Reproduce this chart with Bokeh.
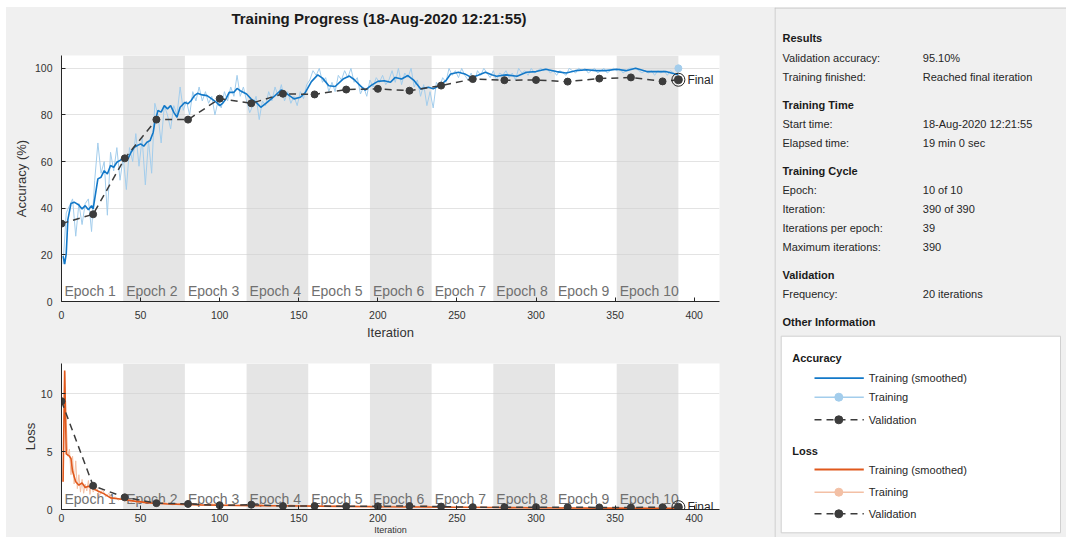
from bokeh.plotting import figure
from bokeh.models import Range1d, FixedTicker, Spacer
from bokeh.layouts import row, column
from bokeh.embed import file_html
from bokeh.resources import INLINE
from bokeh.core.properties import value

# ---------------- data ----------------
TITLE = "Training Progress (18-Aug-2020 12:21:55)"
ITERS_PER_EPOCH = 39
N_EPOCHS = 10
MAX_ITER = 390
epochs = list(range(1, N_EPOCHS + 1))
x_ticks = [0, 50, 100, 150, 200, 250, 300, 350, 400]
acc_ticks = [0, 20, 40, 60, 80, 100]
loss_ticks = [0, 5, 10]

# raw training accuracy, every 2nd iteration (1,3,...,389) and the final iteration 390
raw_acc_iters = list(range(1, MAX_ITER, 2)) + [MAX_ITER]
raw_acc = [
    16, 38, 41, 44, 28, 42, 33, 42, 44, 30, 52, 68, 55, 60, 37, 64, 56, 66, 52, 62,
    48, 66, 60, 72, 58, 70, 50, 69, 55, 85, 80, 68, 84, 80, 74, 84, 80, 92, 82, 86,
    80, 90, 86, 92, 86, 90, 85, 88, 80, 86, 83, 90, 86, 92, 88, 97, 88, 92, 86, 81,
    84, 88, 78, 86, 84, 90, 86, 92, 88, 93, 86, 90, 85, 88, 84, 90, 87, 93, 95, 99,
    97, 100, 94, 96, 90, 94, 90, 97, 95, 99, 96, 100, 94, 96, 89, 92, 88, 95, 92, 96,
    94, 97, 93, 95, 99, 94, 100, 93, 98, 96, 100, 92, 95, 88, 93, 84, 90, 83, 94, 92,
    96, 94, 100, 97, 99, 96, 100, 97, 95, 98, 94, 99, 97, 100, 98, 96, 99, 95, 98, 97,
    99, 96, 98, 95, 100, 98, 99, 97, 100, 98, 99, 100, 99, 100, 98, 99, 97, 99, 98, 97,
    100, 99, 98, 100, 99, 100, 98, 99, 100, 98, 99, 100, 98, 99, 100, 99, 100, 98, 99, 100,
    100, 100, 99, 98, 99, 98, 99, 97, 99, 98, 99, 97, 99, 98, 97,
    100,
]

smooth_acc_iters = [1, 2, 3, 4, 6, 8, 11, 13, 15, 17, 19, 20, 23, 25, 27, 29, 31, 33, 35, 37,
                    40, 42, 44, 46, 48, 50, 52, 54, 56, 58, 59, 61, 63, 65, 67, 69, 71, 73, 75, 78,
                    80, 82, 84, 86, 89, 92, 95, 98, 100, 102, 104, 106, 109, 111, 113, 117, 120, 123, 126, 130,
                    135, 139, 143, 147, 151, 154, 158, 162, 165, 169, 173, 178, 182, 185, 189, 192, 196, 200, 204, 208,
                    211, 215, 219, 223, 227, 232, 235, 239, 243, 246, 251, 255, 259, 263, 268, 272, 275, 281, 288, 294,
                    300, 306, 313, 319, 325, 332, 338, 344, 351, 357, 363, 370, 376, 382, 388, 390]
smooth_acc = [19.5, 16.0, 20.5, 35.0, 42.0, 42.6, 41.4, 39.7, 41.1, 39.4, 41.1, 39.7, 52.6, 53.3, 56.1, 54.7, 58.3, 57.6, 59.7, 60.5,
              61.9, 61.2, 64.0, 66.1, 66.9, 67.6, 66.6, 68.3, 69.0, 72.6, 76.9, 81.9, 81.2, 84.0, 82.6, 84.0, 81.1, 79.0, 83.3, 85.4,
              84.8, 86.2, 88.3, 89.3, 88.6, 88.3, 86.9, 85.4, 84.0, 85.1, 86.9, 89.7, 89.7, 91.4, 90.4, 89.0, 86.8, 85.5, 83.3, 85.4,
              88.3, 90.8, 88.8, 86.9, 87.6, 89.5, 94.3, 97.2, 95.8, 92.5, 92.2, 95.4, 96.7, 95.2, 92.5, 90.6, 92.8, 94.4, 94.7, 94.0,
              96.1, 95.4, 96.9, 94.7, 91.2, 91.9, 91.2, 92.6, 94.7, 97.6, 98.3, 97.6, 96.1, 96.9, 98.3, 97.2, 96.6, 97.2, 96.6, 98.3,
              98.6, 99.6, 98.6, 98.0, 99.0, 99.4, 99.0, 99.0, 99.6, 99.0, 100.0, 98.6, 98.6, 98.6, 97.6, 97.4]

val_iters = [0, 20, 40, 60, 80, 100, 120, 140, 160, 180, 200, 220, 240, 260, 280, 300, 320, 340, 360, 380, 390]
val_acc = [33.4, 37.4, 61.4, 78.0, 78.0, 87.0, 85.0, 89.1, 88.8, 90.9, 91.2, 90.4, 92.6, 95.4, 94.9, 95.0, 94.3, 95.6, 96.1, 94.4, 95.1]
val_loss = [9.35, 2.05, 1.05, 0.55, 0.48, 0.36, 0.42, 0.3, 0.3, 0.28, 0.28, 0.3, 0.25, 0.2, 0.2, 0.2, 0.2, 0.18, 0.18, 0.2, 0.2]

raw_loss_iters = list(range(1, 21)) + list(range(22, 61, 2)) + list(range(65, MAX_ITER + 1, 5))
raw_loss = [
    2.4, 11.9, 7.5, 4.6, 5.2, 3.0, 4.6, 2.2, 4.2, 1.8, 3.0, 1.5, 2.6, 1.4, 2.2, 1.6, 2.5, 1.3, 2.4, 1.5,
    2.0, 1.2, 1.7, 1.1, 1.4, 0.9, 1.1, 0.8, 1.0, 0.7, 0.9, 0.6, 0.8, 0.6, 0.7, 0.5, 0.7, 0.5, 0.6, 0.4,
    0.6, 0.4, 0.5, 0.4, 0.45, 0.35, 0.5, 0.3, 0.4, 0.35,
    0.4, 0.3, 0.45, 0.3, 0.35, 0.25, 0.4, 0.3, 0.35, 0.25,
    0.3, 0.25, 0.35, 0.2, 0.3, 0.25, 0.3, 0.2, 0.25, 0.3,
    0.2, 0.3, 0.25, 0.35, 0.2, 0.25, 0.2, 0.15, 0.2, 0.15,
    0.2, 0.15, 0.2, 0.1, 0.15, 0.2, 0.1, 0.15, 0.1, 0.15,
    0.1, 0.15, 0.1, 0.12, 0.08, 0.12, 0.1, 0.08, 0.1, 0.12,
    0.08, 0.1, 0.12, 0.08, 0.1, 0.1,
]

smooth_loss_iters = [1, 2, 3, 5, 6, 7, 9, 11, 13, 15, 17, 20, 23, 27, 31, 37, 46, 56, 67, 88,
                     110, 130, 150, 175, 200, 225, 250, 275, 300, 325, 350, 375, 390]
smooth_loss = [2.4, 12.0, 4.8, 4.6, 4.4, 3.3, 2.4, 2.1, 2.3, 1.9, 2.0, 1.8, 1.6, 1.35, 1.0, 0.9, 0.72, 0.57, 0.48, 0.4,
               0.35, 0.33, 0.3, 0.27, 0.24, 0.22, 0.2, 0.17, 0.15, 0.13, 0.12, 0.11, 0.1]

info_headings = ["Results", "Training Time", "Training Cycle", "Validation", "Other Information"]
info_labels = ["Validation accuracy:", "Training finished:", "Start time:", "Elapsed time:", "Epoch:",
               "Iteration:", "Iterations per epoch:", "Maximum iterations:", "Frequency:"]
info_values = [f"{val_acc[-1]:.2f}%", "Reached final iteration", "18-Aug-2020 12:21:55", "19 min 0 sec",
               f"{N_EPOCHS} of {N_EPOCHS}", f"{MAX_ITER} of {MAX_ITER}", f"{ITERS_PER_EPOCH}", f"{MAX_ITER}",
               "20 iterations"]
legend_groups = ["Accuracy", "Loss"]
legend_labels = ["Training (smoothed)", "Training", "Validation"]

# ---------------- style / layout ----------------
FONT = "Liberation Sans"
BG = "#f0f0f0"
BAND = "#e5e5e5"
AXIS_C = "#262626"
LABEL_C = "#333333"
EPOCH_C = "#707070"
BLUE = "#1278c8"
LIGHT_BLUE = "#a3cdec"
ORANGE = "#e0581c"
LIGHT_ORANGE = "#f3c0a5"
VAL_C = "#3c3c3c"
DASH = "7 5"

MARGIN_L = 6
MARGIN_T = 7
LEFT_W = 768
PANEL_W = 292
H_TITLE = 30
H_ACC = 310
H_LOSS = 190
X_END = 416
ACC_YMAX = 105.5
LOSS_YMAX = 12.6


def canvas(w, h):
    f = figure(width=w, height=h, x_range=Range1d(0, w), y_range=Range1d(h, 0),
               x_axis_type=None, y_axis_type=None, toolbar_location=None,
               output_backend="svg", min_border=0)
    f.background_fill_color = BG
    f.border_fill_color = BG
    f.outline_line_color = None
    f.grid.visible = False
    return f


def training_plot(height, ymax, yticks, ylabel, top, bottom, xlabel, x_standoff, y_lab_standoff,
                  xlabel_size="13px", xlabel_standoff=3):
    p = figure(width=LEFT_W, height=height, x_range=Range1d(0, X_END), y_range=Range1d(0, ymax),
               toolbar_location=None, output_backend="svg",
               min_border_left=55, min_border_right=55, min_border_top=top, min_border_bottom=bottom)
    p.background_fill_color = "white"
    p.border_fill_color = BG
    p.outline_line_color = None
    p.xgrid.visible = False
    p.xaxis.ticker = FixedTicker(ticks=x_ticks)
    p.yaxis.ticker = FixedTicker(ticks=yticks)
    p.ygrid.ticker = FixedTicker(ticks=yticks)
    p.ygrid.grid_line_color = "#cecece"
    p.ygrid.grid_line_alpha = 0.58
    for ax in (p.xaxis[0], p.yaxis[0]):
        ax.axis_line_color = AXIS_C
        ax.major_tick_line_color = AXIS_C
        ax.major_tick_in = 4
        ax.major_tick_out = 0
        ax.minor_tick_line_color = None
        ax.major_label_text_font = FONT
        ax.major_label_text_font_size = "10.5px"
        ax.major_label_text_color = LABEL_C
        ax.axis_label_text_font = FONT
        ax.axis_label_text_font_size = "13px"
        ax.axis_label_text_font_style = "normal"
        ax.axis_label_text_color = LABEL_C
    p.xaxis.major_label_standoff = x_standoff
    p.yaxis.major_label_standoff = 9
    p.yaxis.axis_label = ylabel
    p.yaxis.axis_label_standoff = y_lab_standoff
    p.xaxis.axis_label = xlabel
    p.xaxis.axis_label_standoff = xlabel_standoff
    p.xaxis.axis_label_text_font_size = xlabel_size

    starts = [(k - 1) * ITERS_PER_EPOCH for k in epochs]
    shaded = [k for k in epochs if k % 2 == 0]
    p.quad(left=[(k - 1) * ITERS_PER_EPOCH for k in shaded], right=[k * ITERS_PER_EPOCH for k in shaded],
           bottom=0, top=ymax, fill_color=BAND, line_color=None, level="image")
    # epoch labels 11 px above the x axis
    label_y = ymax * 11.0 / (height - top - bottom)
    p.text(x=starts, y=[label_y] * len(starts), text=[f"Epoch {k}" for k in epochs],
           x_offset=3, text_baseline="middle", text_align="left",
           text_font=value(FONT), text_font_size="14px", text_color=EPOCH_C)
    return p


def add_series(p, raw_x, raw_y, sm_x, sm_y, vx, vy, c_sm, c_raw):
    p.line(raw_x, raw_y, line_color=c_raw, line_width=1)
    p.line(sm_x, sm_y, line_color=c_sm, line_width=1.6)
    p.scatter([raw_x[-1]], [raw_y[-1]], size=7, fill_color=c_raw, line_color=c_raw)
    p.line(vx, vy, line_color=VAL_C, line_width=1.5, line_dash=DASH)
    p.scatter(vx[:-1], vy[:-1], size=7, fill_color=VAL_C, line_color=VAL_C)
    p.scatter([vx[-1]], [vy[-1]], size=8, fill_color=VAL_C, line_color=VAL_C)
    p.scatter([vx[-1]], [vy[-1]], size=13, fill_color=None, line_color=AXIS_C, line_width=1)
    p.text(x=[vx[-1]], y=[vy[-1]], text=["Final"], x_offset=9, text_baseline="middle",
           text_font=value(FONT), text_font_size="12px", text_color=AXIS_C)


# title strip
t = canvas(LEFT_W, H_TITLE)
t.text(x=[370.5], y=[11], text=[TITLE], text_align="center", text_baseline="middle",
       text_font=value(FONT), text_font_size="15px", text_font_style="bold", text_color="#1a1a1a")

acc = training_plot(H_ACC, ACC_YMAX, acc_ticks, "Accuracy (%)", 18, 46, "Iteration", 9, 3)
add_series(acc, raw_acc_iters, raw_acc, smooth_acc_iters, smooth_acc, val_iters, val_acc, BLUE, LIGHT_BLUE)

loss = training_plot(H_LOSS, LOSS_YMAX, loss_ticks, "Loss", 16, 26, "Iteration", 4, 0,
                     xlabel_size="9px", xlabel_standoff=0)
add_series(loss, raw_loss_iters, raw_loss, smooth_loss_iters, smooth_loss, val_iters, val_loss, ORANGE, LIGHT_ORANGE)

# right information panel
PH = H_TITLE + H_ACC + H_LOSS
panel = canvas(PANEL_W, PH)
panel.line([0.5, 0.5], [0, PH], line_color="#c4c4c4", line_width=1)
panel.line([0, PANEL_W], [0.5, 0.5], line_color="#c4c4c4", line_width=1)

heading_y = [30.7, 97.3, 163.0, 267.0, 314.0]
label_y = [50.7, 69.0, 116.3, 135.0, 182.3, 201.3, 220.7, 239.0, 286.3]
panel.text(x=[8] * len(info_headings), y=heading_y, text=info_headings, text_baseline="middle",
           text_font=value(FONT), text_font_size="11px", text_font_style="bold", text_color="#1a1a1a")
panel.text(x=[8] * len(info_labels), y=label_y, text=info_labels, text_baseline="middle",
           text_font=value(FONT), text_font_size="11px", text_color="#262626")
panel.text(x=[148.3] * len(info_values), y=label_y, text=info_values, text_baseline="middle",
           text_font=value(FONT), text_font_size="11px", text_color="#262626")

# legend box
panel.quad(left=[6.7], right=[286], top=[328.7], bottom=[525.3], fill_color="white", line_color="#d0d0d0")
group_y = [350.3, 443.0]
row_y = [[370.7, 389.7, 412.3], [462.0, 484.7, 506.3]]
panel.text(x=[17.7, 17.7], y=group_y, text=legend_groups, text_baseline="middle",
           text_font=value(FONT), text_font_size="11px", text_font_style="bold", text_color="#1a1a1a")
for (c_sm, c_raw), ys in zip([(BLUE, LIGHT_BLUE), (ORANGE, LIGHT_ORANGE)], row_y):
    panel.line([40, 89.3], [ys[0]] * 2, line_color=c_sm, line_width=1.8)
    panel.line([40, 89.3], [ys[1]] * 2, line_color=c_raw, line_width=1.5)
    panel.scatter([64.3], [ys[1]], size=8, fill_color=c_raw, line_color=c_raw)
    panel.line([40, 89.3], [ys[2]] * 2, line_color=VAL_C, line_width=1.5, line_dash=DASH)
    panel.scatter([64.3], [ys[2]], size=8, fill_color=VAL_C, line_color=VAL_C)
    panel.text(x=[94.3] * 3, y=ys, text=legend_labels, text_baseline="middle",
               text_font=value(FONT), text_font_size="11px", text_color="#262626")

inner = row(column(t, acc, loss, spacing=0), panel, spacing=0, styles={"background-color": BG})
layout = column(
    Spacer(height=MARGIN_T, width=MARGIN_L + LEFT_W + PANEL_W),
    row(Spacer(width=MARGIN_L, height=PH), inner, spacing=0),
    spacing=0,
)
open("out.html", "w").write(file_html(layout, INLINE))
